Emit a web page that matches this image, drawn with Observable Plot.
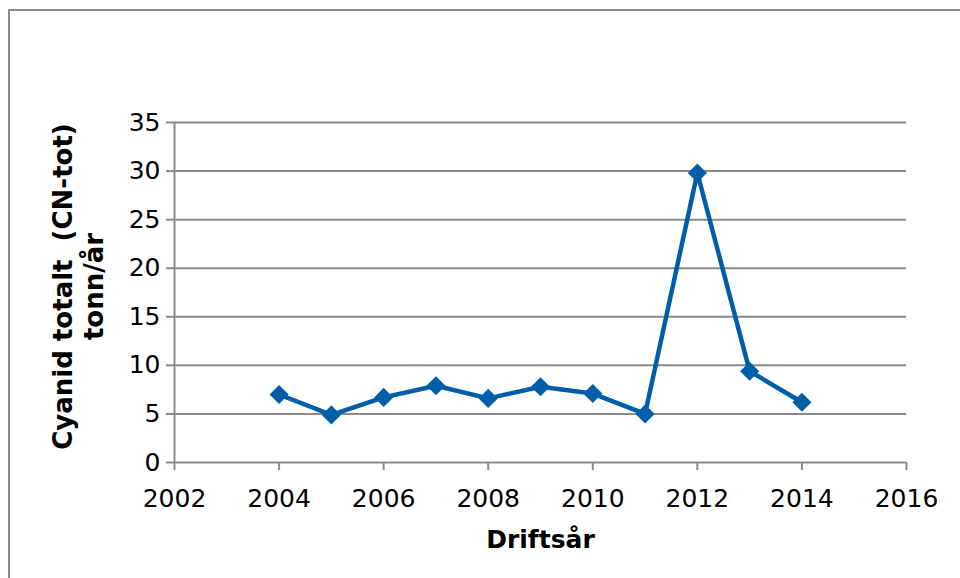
<!DOCTYPE html>
<html>
<head>
<meta charset="utf-8">
<script src="https://cdn.jsdelivr.net/npm/d3@7"></script>
<script src="https://cdn.jsdelivr.net/npm/@observablehq/plot@0.6"></script>
<style>
  html, body { margin: 0; padding: 0; background: #fff; }
  #wrap { position: relative; width: 960px; height: 578px; overflow: hidden; }
  #frame { position: absolute; left: 8px; top: 9px; width: 1000px; height: 600px;
           border-left: 2px solid #8a8a8a; border-top: 2px solid #8a8a8a; box-sizing: border-box; }
  #chart { position: absolute; left: 0; top: 0; }
  #chart svg { font-family: "DejaVu Sans", Verdana, sans-serif; color: #000; }
  #chart svg [aria-label^="x-axis"] path, #chart svg [aria-label^="x-axis"] line,
  #chart svg [aria-label^="y-axis"] path, #chart svg [aria-label^="y-axis"] line {
    stroke: #8a8a8a; stroke-width: 2px; stroke-opacity: 1;
  }
</style>
</head>
<body>
<div id="wrap">
  <div id="frame"></div>
  <div id="chart"></div>
</div>
<script>
const years = [2004, 2005, 2006, 2007, 2008, 2009, 2010, 2011, 2012, 2013, 2014];
const values = [7.0, 4.9, 6.7, 7.9, 6.6, 7.8, 7.1, 5.0, 29.8, 9.4, 6.2];
const xTicks = [2002, 2004, 2006, 2008, 2010, 2012, 2014, 2016];
const yTicks = [0, 5, 10, 15, 20, 25, 30, 35];
const xTitle = "Driftsår";
const yTitle = "Cyanid totalt\u00A0 (CN-tot)\ntonn/år";

const data = years.map((y, i) => ({year: y, value: values[i]}));
const blue = "#005ea8";

const chart = Plot.plot({
  width: 960,
  height: 578,
  marginLeft: 174,
  marginRight: 54,
  marginTop: 122,
  marginBottom: 116,
  style: {fontSize: "25px", fontFamily: "DejaVu Sans, Verdana, sans-serif", background: "transparent", overflow: "visible"},
  x: {domain: [2002, 2016], ticks: xTicks, tickFormat: d => String(d), tickSize: 8, tickPadding: 19, label: null},
  y: {domain: [0, 35], ticks: yTicks, tickSize: 8, tickPadding: 6, label: null},
  marks: [
    Plot.ruleY(yTicks, {stroke: "#8a8a8a", strokeWidth: 2}),
    Plot.ruleX([2002], {stroke: "#8a8a8a", strokeWidth: 2}),
    Plot.line(data, {x: "year", y: "value", stroke: blue, strokeWidth: 4.5, strokeLinejoin: "miter"}),
    Plot.dot(data, {x: "year", y: "value", symbol: "diamond2", r: 8.6, fill: blue, stroke: null}),
    Plot.text([xTitle], {frameAnchor: "bottom", dy: 85, lineAnchor: "bottom", fontWeight: "bold", fontSize: 25, fill: "#000"}),
    Plot.text([yTitle], {frameAnchor: "left", dx: -97, dy: -6, rotate: -90, lineAnchor: "middle", lineHeight: 1.2, fontWeight: "bold", fontSize: 26, fill: "#000", textAnchor: "middle"})
  ]
});
document.getElementById("chart").appendChild(chart);
</script>
</body>
</html>
